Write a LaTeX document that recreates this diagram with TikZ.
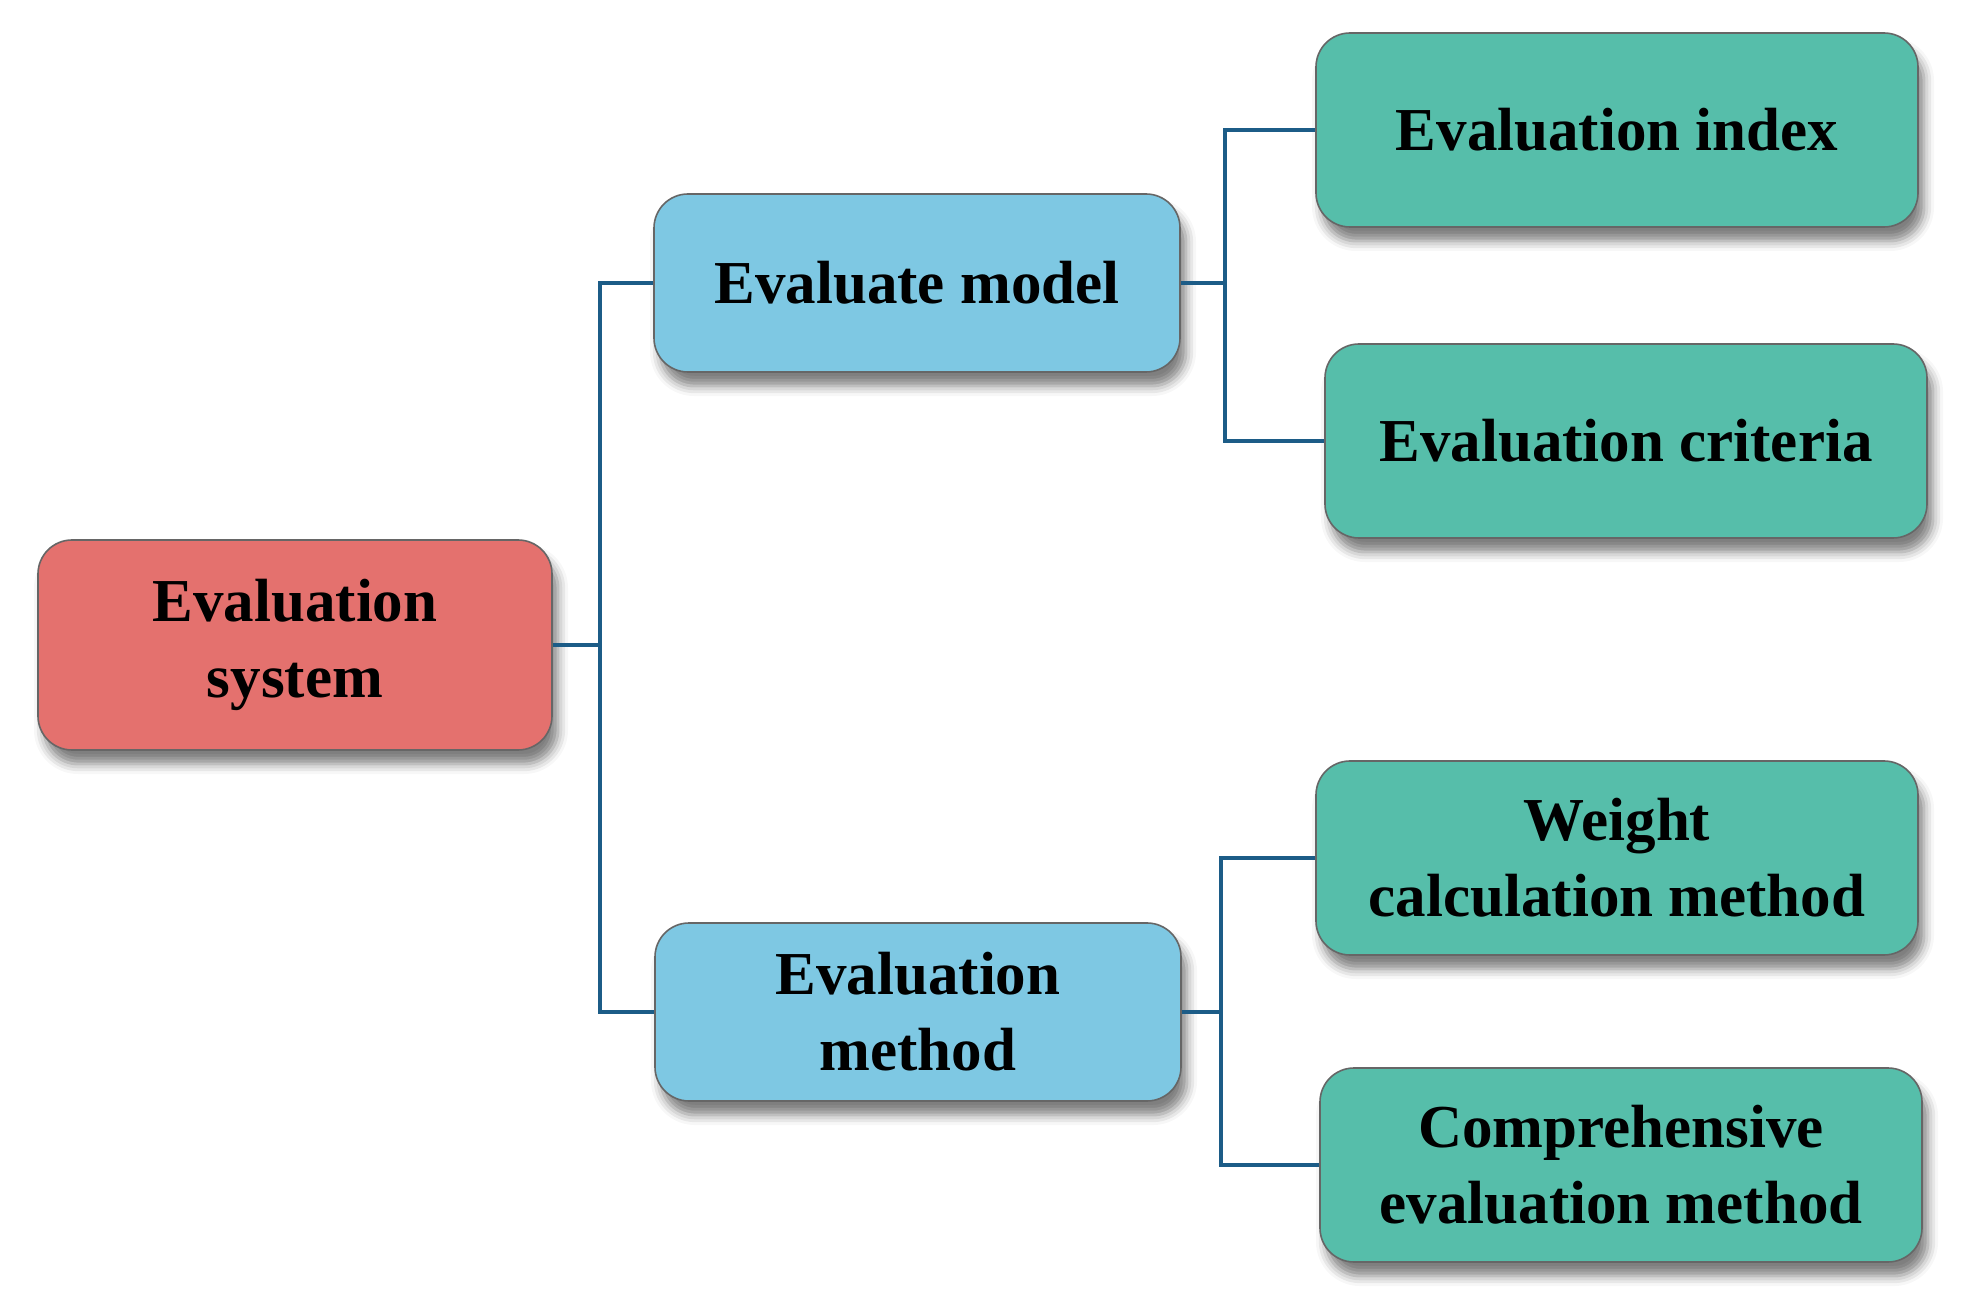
\documentclass[tikz,border=0pt]{standalone}
\usepackage{fontspec}
\setmainfont{Liberation Serif}
\usetikzlibrary{positioning,shadows.blur}
\definecolor{sysred}{RGB}{228,113,110}
\definecolor{midblue}{RGB}{126,200,227}
\definecolor{leafgreen}{RGB}{86,190,170}
\definecolor{linkblue}{RGB}{28,92,135}
\begin{document}
\begin{tikzpicture}[x=0.5pt,y=-0.5pt,
		box/.style={draw=black!60, line width=0.8pt, rounded corners=17pt, align=center,
			font=\fontsize{30.5}{38}\selectfont\bfseries,
			blur shadow={shadow xshift=3pt, shadow yshift=-7pt, shadow blur radius=5pt, shadow opacity=50}},
		rootbox/.style={box, fill=sysred, minimum width=257pt, minimum height=105pt},
		midbox/.style={box, fill=midblue, minimum width=263pt, minimum height=89pt},
		leafbox/.style={box, fill=leafgreen, minimum width=301pt, minimum height=97pt},
		link/.style={draw=linkblue, line width=2.4pt}
	]
	\useasboundingbox (0,0) rectangle (1961,1304);
	\node[rootbox] (sys) at (295,645) {Evaluation\\system};
	\node[midbox] (model) at (917,283) {Evaluate model};
	\node[midbox] (method) at (918,1012) {Evaluation\\method};
	\node[leafbox] (index) at (1617,130) {Evaluation index};
	\node[leafbox] (criteria) at (1626,441) {Evaluation criteria};
	\node[leafbox] (weight) at (1617,858) {Weight\\calculation method};
	\node[leafbox] (compre) at (1621,1165) {Comprehensive\\evaluation method};
	% elbow connectors
	\coordinate (ja) at (600,645);
	\coordinate (jb) at (1225,283);
	\coordinate (jc) at (1221,1012);
	\draw[link] (sys.east) -- (ja);
	\draw[link] (model.west) -| (ja) |- (method.west);
	\draw[link] (model.east) -- (jb);
	\draw[link] (index.west) -| (jb) |- (criteria.west);
	\draw[link] (method.east) -- (jc);
	\draw[link] (weight.west) -| (jc) |- (compre.west);
\end{tikzpicture}
\end{document}
